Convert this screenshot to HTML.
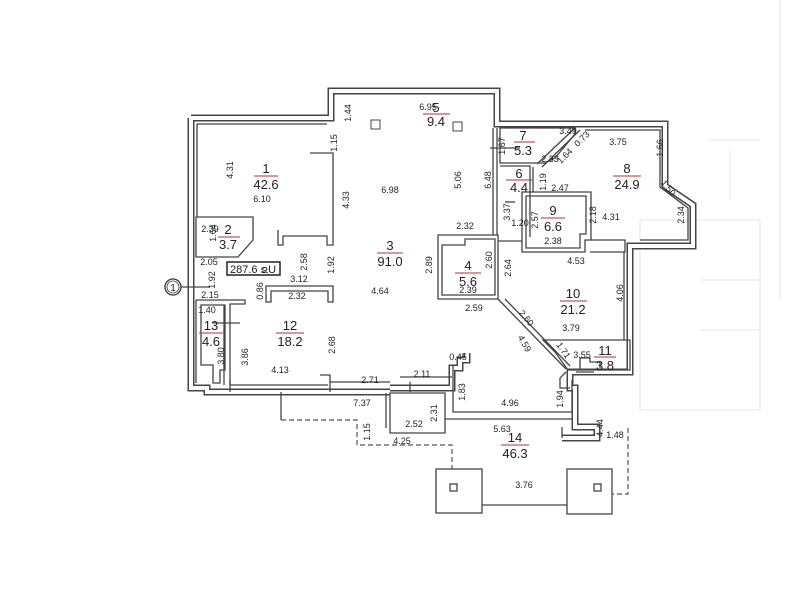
<!DOCTYPE html>
<html><head><meta charset="utf-8"><style>
html,body{margin:0;padding:0;background:#fff;}
svg{display:block}
text{font-family:"Liberation Sans",sans-serif;fill:#222}
.d{font-size:9px}
.n{font-size:13px}
</style></head><body>
<svg width="800" height="600" viewBox="0 0 800 600" xmlns="http://www.w3.org/2000/svg">
<rect width="800" height="600" fill="#fff"/>
<!-- faint scan artifacts on right -->
<g stroke="#e4e6ee" stroke-width="1" fill="none">
<rect x="640" y="220" width="120" height="190"/>
<line x1="700" y1="280" x2="760" y2="280"/><line x1="700" y1="330" x2="760" y2="330"/>
<line x1="710" y1="140" x2="760" y2="140"/><line x1="780" y1="0" x2="780" y2="300"/>
<line x1="730" y1="150" x2="730" y2="200"/>
</g>
<!-- Outer walls: double line effect -->
<g fill="none" stroke-linejoin="miter">
<path id="outer" d="M191,118 L331,118 L331,91 L497,91 L497,124 L665,124 L665,186 L693,205 L693,246 L630,246 L630,372 L570,372 L570,388 L575,388 L575,427 L597,427 L597,438 L562,438 M191,118 L191,388 L207,388 L207,392 L270,392 L270,392 L390,392 M390,388 L452,388 L452,368 L460,368 L460,360 L467,360 L467,353" stroke="#444" stroke-width="7"/>
<path d="M191,118 L331,118 L331,91 L497,91 L497,124 L665,124 L665,186 L693,205 L693,246 L630,246 L630,372 L570,372 L570,388 L575,388 L575,427 L597,427 L597,438 L562,438 M191,118 L191,388 L207,388 L207,392 L270,392 L270,392 L390,392 M390,388 L452,388 L452,368 L460,368 L460,360 L467,360 L467,353" stroke="#fff" stroke-width="4"/>
</g>
<g fill="none" stroke="#444" stroke-width="1.3">
<!-- room 1 inner -->
<polyline points="197,217 197,124 327,124"/>
<polyline points="310,153 333,153 333,245 327,245 327,236 283,236 283,245 278,245 278,230"/>
<!-- room 2 -->
<path d="M196,217 L253,217 L253,240 L238,257 L196,257 Z"/>
<!-- room 12 top wall -->
<path d="M266,302 L266,286 L333,286 L333,302 L328,302 L328,291 L271,291 L271,302 Z"/>
<!-- room 13 / 12 -->
<polyline points="196,300 245,300 245,304 230,304 230,385 328,385"/>
<polyline points="196,300 196,383"/>
<path d="M201,305 L225,305 L225,370 L220,370 L220,383 L213,383 L213,365 L201,365 Z"/>
<path d="M224,385 L224,305"/>
<!-- room 3 right wall -->
<polyline points="493,128 493,235"/>
<polyline points="497,128 497,235"/>
<!-- room 4 -->
<path d="M438,235 L498,235 L498,299 L438,299 Z"/>
<path d="M442,245 L465,245 L465,239 L495,239 L495,295 L442,295 Z"/>
<!-- diagonal -->
<polyline points="498,299 566,369"/>
<polyline points="505,299 570,366"/>
<!-- room 6/7 -->
<path d="M500,128 L575,128 L575,134 L555,158 L545,163 L500,163 Z"/>
<path d="M500,166 L530,166 L530,237"/>
<polyline points="533,167 533,192"/>
<line x1="537" y1="164" x2="575" y2="128"/>
<line x1="542" y1="167" x2="580" y2="130"/>
<!-- room 8 inner -->
<polyline points="585,130 660,130 660,187 688,208 688,240 640,240"/>
<!-- room 9 -->
<path d="M522,192 L591,192 L591,240 L585,240 L585,252 L522,252 Z"/>
<path d="M526,196 L586,196 L586,234 L580,234 L580,248 L526,248 Z"/>
<polyline points="591,240 625,240 625,252 590,252"/>
<polyline points="498,241 522,241"/>
<!-- room 10 right -->
<polyline points="624,252 624,340"/>
<!-- room 11 -->
<path d="M543,340 L630,340 L630,370 L568,370 L555,352 Z"/>
<polyline points="580,370 580,358 590,358 590,362 600,362 600,368"/>
<line x1="576" y1="372" x2="594" y2="372"/>
<!-- lower rooms -->
<path d="M453,365 L453,412 L572,412 L572,380"/>
<polyline points="445,419 572,419"/>
<path d="M390,393 L445,393 L445,433 L390,433 Z"/>
<line x1="386" y1="393" x2="386" y2="428"/>
<path d="M281,392 L281,420"/>
<path d="M562,427 L562,438"/>
<polyline points="570,388 560,388 560,378 566,372"/>
<!-- bottom wall double -->
<line x1="230" y1="380" x2="230" y2="392"/>
<polyline points="330,392 330,375 320,375"/>
<line x1="330" y1="382" x2="390" y2="382"/>
<line x1="400" y1="377" x2="452" y2="377"/>
<line x1="410" y1="382" x2="410" y2="392"/>
<!-- pillars -->
<rect x="436" y="469" width="46" height="44"/>
<rect x="450" y="484" width="7" height="7"/>
<rect x="567" y="469" width="45" height="45"/>
<rect x="594" y="484" width="7" height="7"/>
<line x1="482" y1="505" x2="567" y2="505"/>
<!-- door ticks -->
<line x1="213" y1="323" x2="240" y2="323"/>
<line x1="180" y1="287" x2="210" y2="287"/>
<line x1="505" y1="202" x2="515" y2="202"/>
<line x1="490" y1="148" x2="520" y2="148"/>
</g>
<!-- dashed lines -->
<g fill="none" stroke="#555" stroke-width="1.2" stroke-dasharray="5,3">
<polyline points="281,420 357,420 357,445 452,445 452,469"/>
<polyline points="628,428 628,494 612,494"/>
</g>
<!-- small squares room 3 -->
<rect x="371" y="120" width="9" height="9" fill="none" stroke="#444"/>
<rect x="453" y="122" width="9" height="9" fill="none" stroke="#444"/>
<!-- entrance marker -->
<circle cx="173" cy="287" r="8" fill="#fff" stroke="#333" stroke-width="1.3"/>
<circle cx="173" cy="287" r="6" fill="none" stroke="#333" stroke-width="0.8"/>
<text x="173" y="291" font-size="10" text-anchor="middle">1</text>
<!-- total area -->
<rect x="227" y="262" width="53" height="13" fill="#fff" stroke="#222" stroke-width="1.5"/>
<text x="253" y="273" font-size="11" text-anchor="middle">287.6 ຂU</text>
<!-- room labels -->
<g class="n" text-anchor="middle" stroke="none">
<text x="266" y="173">1</text><text x="266" y="189">42.6</text>
<text x="228" y="234">2</text><text x="228" y="249">3.7</text>
<text x="390" y="250">3</text><text x="390" y="266">91.0</text>
<text x="468" y="270">4</text><text x="468" y="286">5.6</text>
<text x="436" y="112">5</text><text x="436" y="126">9.4</text>
<text x="519" y="178">6</text><text x="519" y="192">4.4</text>
<text x="523" y="140">7</text><text x="523" y="155">5.3</text>
<text x="627" y="173">8</text><text x="627" y="189">24.9</text>
<text x="553" y="215">9</text><text x="553" y="231">6.6</text>
<text x="573" y="298">10</text><text x="573" y="314">21.2</text>
<text x="605" y="355">11</text><text x="605" y="370">3.8</text>
<text x="290" y="330">12</text><text x="290" y="346">18.2</text>
<text x="211" y="330">13</text><text x="211" y="346">4.6</text>
<text x="515" y="442">14</text><text x="515" y="458">46.3</text>
</g>
<g stroke="#a33" stroke-width="0.9">
<line x1="254" y1="176" x2="278" y2="176"/><line x1="218" y1="237" x2="240" y2="237"/>
<line x1="377" y1="253" x2="403" y2="253"/><line x1="455" y1="273" x2="481" y2="273"/>
<line x1="423" y1="114" x2="450" y2="114"/><line x1="506" y1="180" x2="532" y2="180"/>
<line x1="514" y1="142" x2="535" y2="142"/><line x1="613" y1="176" x2="641" y2="176"/>
<line x1="541" y1="218" x2="565" y2="218"/><line x1="560" y1="301" x2="587" y2="301"/>
<line x1="594" y1="357" x2="616" y2="357"/><line x1="276" y1="333" x2="304" y2="333"/>
<line x1="199" y1="333" x2="223" y2="333"/><line x1="501" y1="445" x2="529" y2="445"/>
</g>
<!-- dimensions -->
<g class="d" text-anchor="middle">
<text x="262" y="202">6.10</text>
<text x="390" y="193">6.98</text>
<text x="428" y="110">6.95</text>
<text x="568" y="134">3.49</text>
<text x="550" y="162">2.33</text>
<text x="560" y="191">2.47</text>
<text x="618" y="145">3.75</text>
<text x="611" y="220">4.31</text>
<text x="553" y="244">2.38</text>
<text x="576" y="264">4.53</text>
<text x="571" y="331">3.79</text>
<text x="582" y="358">3.55</text>
<text x="520" y="226">1.20</text>
<text x="465" y="229">2.32</text>
<text x="468" y="293">2.39</text>
<text x="474" y="311">2.59</text>
<text x="380" y="294">4.64</text>
<text x="299" y="282">3.12</text>
<text x="297" y="299">2.32</text>
<text x="210" y="232">2.39</text>
<text x="209" y="265">2.05</text>
<text x="210" y="298">2.15</text>
<text x="207" y="313">1.40</text>
<text x="280" y="373">4.13</text>
<text x="370" y="383">2.71</text>
<text x="422" y="377">2.11</text>
<text x="458" y="360">0.45</text>
<text x="362" y="406">7.37</text>
<text x="414" y="427">2.52</text>
<text x="402" y="444">4.25</text>
<text x="510" y="406">4.96</text>
<text x="502" y="432">5.63</text>
<text x="615" y="438">1.48</text>
<text x="524" y="488">3.76</text>
</g>
<g class="d" text-anchor="middle">
<text transform="translate(233,170) rotate(-90)">4.31</text>
<text transform="translate(349,200) rotate(-90)">4.33</text>
<text transform="translate(337,143) rotate(-90)">1.15</text>
<text transform="translate(351,113) rotate(-90)">1.44</text>
<text transform="translate(461,180) rotate(-90)">5.06</text>
<text transform="translate(491,180) rotate(-90)">6.48</text>
<text transform="translate(307,262) rotate(-90)">2.58</text>
<text transform="translate(334,265) rotate(-90)">1.92</text>
<text transform="translate(432,265) rotate(-90)">2.89</text>
<text transform="translate(492,260) rotate(-90)">2.60</text>
<text transform="translate(511,268) rotate(-90)">2.64</text>
<text transform="translate(510,212) rotate(-90)">3.37</text>
<text transform="translate(505,146) rotate(-90)">1.67</text>
<text transform="translate(546,182) rotate(-90)">1.19</text>
<text transform="translate(538,220) rotate(-90)">2.57</text>
<text transform="translate(596,215) rotate(-90)">2.18</text>
<text transform="translate(663,148) rotate(-90)">1.66</text>
<text transform="translate(684,215) rotate(-90)">2.34</text>
<text transform="translate(623,293) rotate(-90)">4.06</text>
<text transform="translate(216,233) rotate(-90)">1.64</text>
<text transform="translate(215,280) rotate(-90)">1.92</text>
<text transform="translate(263,291) rotate(-90)">0.86</text>
<text transform="translate(248,357) rotate(-90)">3.86</text>
<text transform="translate(224,356) rotate(-90)">3.80</text>
<text transform="translate(335,345) rotate(-90)">2.68</text>
<text transform="translate(465,392) rotate(-90)">1.83</text>
<text transform="translate(437,413) rotate(-90)">2.31</text>
<text transform="translate(370,432) rotate(-90)">1.15</text>
<text transform="translate(563,399) rotate(-90)">1.94</text>
<text transform="translate(603,428) rotate(-90)">4.44</text>
<text transform="translate(584,141) rotate(-45)">0.73</text>
<text transform="translate(567,158) rotate(-45)">1.64</text>
<text transform="translate(666,190) rotate(50)">1.50</text>
<text transform="translate(524,320) rotate(50)">2.60</text>
<text transform="translate(522,345) rotate(60)">4.59</text>
<text transform="translate(561,352) rotate(55)">1.71</text>
</g>
</svg>
</body></html>
